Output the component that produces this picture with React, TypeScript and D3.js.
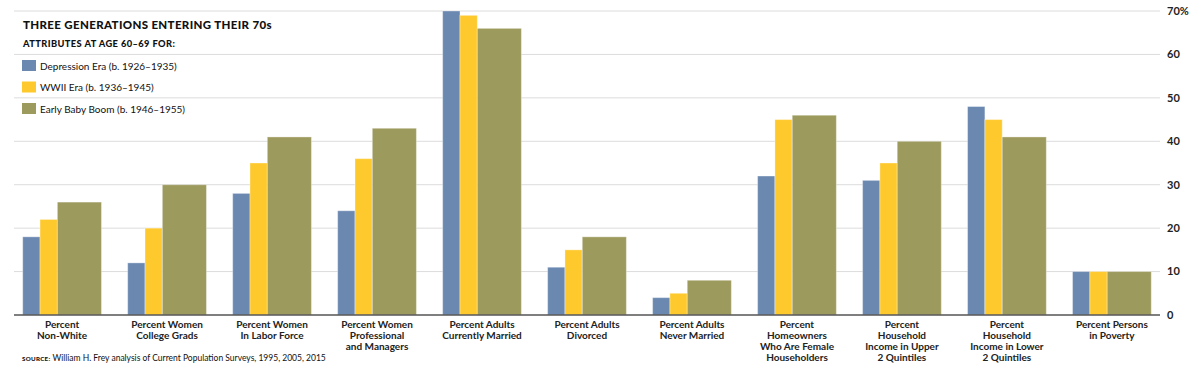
import React from "react";
import * as d3 from "d3";

const categories: string[][] = [
  ["Percent", "Non-White"],
  ["Percent Women", "College Grads"],
  ["Percent Women", "In Labor Force"],
  ["Percent Women", "Professional", "and Managers"],
  ["Percent Adults", "Currently Married"],
  ["Percent Adults", "Divorced"],
  ["Percent Adults", "Never Married"],
  ["Percent", "Homeowners", "Who Are Female", "Householders"],
  ["Percent", "Household", "Income in Upper", "2 Quintiles"],
  ["Percent", "Household", "Income in Lower", "2 Quintiles"],
  ["Percent Persons", "in Poverty"],
];

const seriesNames = [
  "Depression Era (b. 1926–1935)",
  "WWII Era (b. 1936–1945)",
  "Early Baby Boom (b. 1946–1955)",
];

const depressionEra = [18, 12, 28, 24, 70, 11, 4, 32, 31, 48, 10];
const wwiiEra = [22, 20, 35, 36, 69, 15, 5, 45, 35, 45, 10];
const earlyBabyBoom = [26, 30, 41, 43, 66, 18, 8, 46, 40, 41, 10];

const yTicks = [0, 10, 20, 30, 40, 50, 60, 70];

const colors = ["#6a88b0", "#fec92c", "#9d9a5e"];
const FONT = "Lato, 'Open Sans', sans-serif";

export default function App() {
  const W = 1200;
  const H = 368;
  const series = [depressionEra, wwiiEra, earlyBabyBoom];
  const keys = categories.map((c) => c.join(" "));

  const x = d3
    .scaleBand<string>()
    .domain(keys)
    .range([14, 1160])
    .paddingInner(0.25)
    .paddingOuter(0.083);
  const y = d3.scaleLinear().domain([0, 70]).range([315, 11]);

  const bw = x.bandwidth();
  const weights = [0.22, 0.22, 0.56];
  const offsets = [0, weights[0], weights[0] + weights[1]];

  return (
    <svg
      width={W}
      height={H}
      style={{ position: "absolute", left: 0, top: 0, background: "#fff" }}
      fontFamily={FONT}
    >
      {yTicks
        .filter((t) => t > 0)
        .map((t) => (
          <line key={t} x1={14} x2={1160} y1={y(t)} y2={y(t)} stroke="#dcdcdc" strokeWidth={1} />
        ))}
      {yTicks.map((t) => (
        <text key={t} x={1167} y={y(t)} dy="0.35em" fontSize={11} fontWeight={700} fill="#222">
          {t === 70 ? "70%" : t}
        </text>
      ))}
      {keys.map((k, i) => (
        <g key={k}>
          {series.map((s, j) => (
            <rect
              key={j}
              x={(x(k) as number) + offsets[j] * bw}
              y={y(s[i])}
              width={weights[j] * bw}
              height={y(0) - y(s[i])}
              fill={colors[j]}
              stroke="rgba(255,255,255,0.35)"
              strokeWidth={1}
            />
          ))}
        </g>
      ))}
      <line x1={14} x2={1160} y1={y(0)} y2={y(0)} stroke="#555" strokeWidth={1.5} />
      {categories.map((lines, i) => {
        const cx = (x(keys[i]) as number) + bw / 2;
        return (
          <g key={i}>
            {lines.map((l, li) => (
              <text
                key={li}
                x={cx}
                y={327.5 + li * 11}
                textAnchor="middle"
                fontSize={10}
                fontWeight={700}
                fill="#222"
              >
                {l}
              </text>
            ))}
          </g>
        );
      })}
      <text x={23} y={29} fontSize={11.5} fontWeight={900} fill="#111" letterSpacing={0.35}>
        THREE GENERATIONS ENTERING THEIR 70s
      </text>
      <text x={23} y={47} fontSize={9.3} fontWeight={900} fill="#111" letterSpacing={0.4}>
        ATTRIBUTES AT AGE 60–69 FOR:
      </text>
      {seriesNames.map((n, j) => (
        <g key={n} transform={`translate(22, ${60 + j * 21.5})`}>
          <rect x={0} y={0} width={14} height={11} fill={colors[j]} />
          <text x={18} y={9.5} fontSize={10} fill="#111">
            {n}
          </text>
        </g>
      ))}
      <text x={22} y={361} fontSize={8.5} fill="#111">
        <tspan fontWeight={900} fontSize={6.2} letterSpacing={0.3}>SOURCE:</tspan>
        <tspan> William H. Frey analysis of Current Population Surveys, 1995, 2005, 2015</tspan>
      </text>
    </svg>
  );
}
